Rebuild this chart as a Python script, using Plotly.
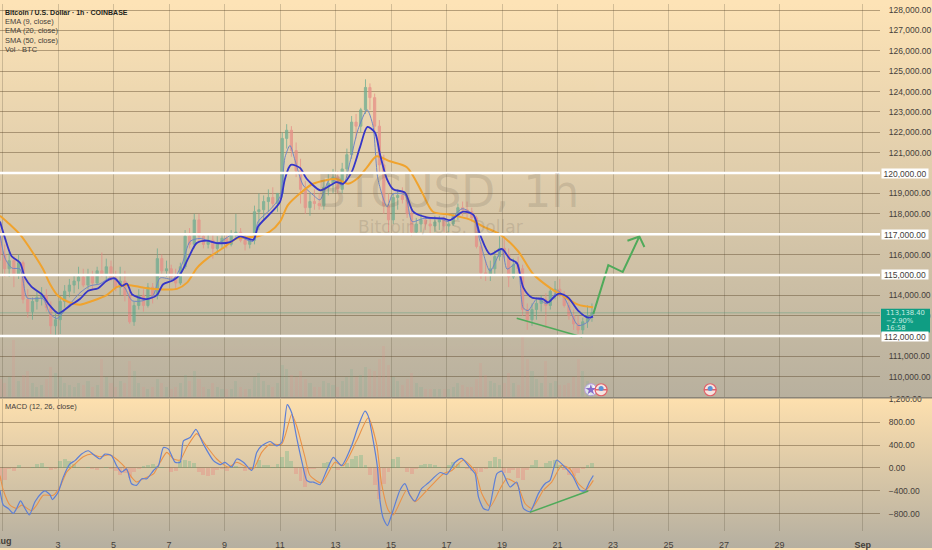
import base64

import plotly.graph_objs as go
from plotly.subplots import make_subplots

# x values are days of August, Sep 1 = 32
tick_days = [1, 3, 5, 7, 9, 11, 13, 15, 17, 19, 21, 23, 25, 27, 29, 32]
# Aug sits on the page edge, it is placed as an annotation further down
tick_labels = ['', '3', '5', '7', '9', '11', '13', '15', '17', '19', '21', '23', '25', '27', '29', '<b>Sep</b>']

# the white levels get their own boxed labels below
price_ticks = [110000, 111000, 113000, 114000, 116000, 118000, 119000, 121000, 122000, 123000, 124000, 125000,
               126000, 127000, 128000]
price_levels = [120000, 117000, 115000, 112000]
macd_ticks = [-800, -400, 0, 400, 800, 1200]

# candles, one per 4 hours
candle_days = [round(0.91 + i / 6, 2) for i in range(129)]
opens = [117000, 116000, 115300, 115700, 115000, 115600, 113800, 113200, 113700, 113900, 114000, 113400, 112500,
         112800, 113700, 114200, 114500, 114700, 114900, 114500, 115000, 114600, 115200, 115000, 115400, 114800,
         114400, 114700, 114000, 112700, 113500, 114000, 113500, 114400, 114000, 115800, 115200, 115300, 114900,
         114600, 115400, 116900, 116500, 117700, 116900, 116500, 116700, 116300, 116600, 116800, 116500, 117000,
         117100, 116700, 116500, 116700, 118100, 118200, 118600, 118800, 118500, 119000, 121700, 122100, 121100,
         120100, 119200, 118300, 118600, 118500, 118400, 119300, 119500, 119800, 119200, 120200, 120900, 122500,
         122300, 123100, 124200, 123700, 122300, 120400, 118400, 117700, 118800, 118900, 118700, 118000, 117100,
         117500, 117700, 117500, 117400, 117600, 117700, 117400, 117500, 117900, 118300, 118200, 118100, 117800,
         116400, 115100, 115000, 115300, 115900, 116300, 116000, 114900, 115500, 115300, 113300, 112800, 113300,
         113600, 113800, 113500, 114200, 114300, 114000, 113500, 113000, 112600, 112300, 112700, 113000]
highs = [117250, 116500, 116100, 115900, 116000, 115700, 114300, 113900, 114200, 114400, 114300, 113700, 113100,
         114000, 114500, 114800, 115000, 115400, 115300, 115300, 115200, 115400, 116100, 115800, 115700, 115200,
         115400, 115200, 114400, 113700, 114300, 114300, 114600, 114600, 116300, 116000, 115700, 115500, 115300,
         115600, 117200, 117300, 118000, 118000, 117000, 117000, 117000, 116900, 117000, 117000, 117200, 118000,
         117300, 117000, 116900, 118400, 119000, 118900, 119200, 119300, 119000, 122000, 122400, 122300, 121500,
         120700, 119600, 119000, 119200, 119000, 119600, 120000, 120200, 120100, 120500, 121200, 122800, 122900,
         123200, 124600, 124400, 123900, 122600, 120900, 119000, 119000, 119200, 119300, 119000, 118200, 117800,
         118000, 117900, 117800, 117900, 117900, 117900, 117700, 118000, 118500, 118600, 118600, 118300, 117900,
         116600, 115700, 115700, 116200, 116900, 116900, 116300, 115800, 115900, 115500, 113600, 113600, 113900,
         114000, 114100, 114400, 114700, 114800, 114200, 113700, 113300, 113000, 112900, 113500, 113600]
lows = [115700, 114900, 114900, 114400, 114800, 113600, 112900, 112800, 113300, 113500, 113200, 112100, 112050,
        112100, 113400, 113900, 114100, 114300, 114400, 114300, 114300, 114500, 114900, 114700, 114700, 114200,
        114000, 113700, 112600, 112500, 113300, 113200, 113400, 113600, 113800, 115000, 114900, 114800, 114300,
        114500, 115300, 116300, 116300, 116600, 116300, 116300, 115800, 116000, 116300, 116300, 116400, 116800,
        116600, 116200, 116300, 116500, 117200, 117700, 118100, 118300, 118100, 118800, 121200, 120800, 119800,
        118500, 118000, 117900, 118200, 118200, 118200, 118900, 119000, 119000, 119000, 119900, 120700, 121700,
        122000, 122900, 123100, 122000, 120000, 118000, 117100, 117500, 118200, 118500, 117800, 116900, 117000,
        117100, 117200, 117000, 117100, 117200, 117100, 117100, 117400, 117700, 117900, 117800, 117600, 116300,
        114800, 114700, 114700, 115000, 115700, 115800, 114400, 114800, 115000, 113000, 112300, 112500, 112800,
        113200, 112400, 113300, 113800, 113900, 113400, 112800, 112300, 112100, 112100, 112400, 112700]
closes = [116000, 115300, 115700, 115000, 115600, 113800, 113200, 113700, 113900, 114000, 113400, 112500, 112800,
          113700, 114200, 114500, 114700, 114900, 114500, 115000, 114600, 115200, 115000, 115400, 114800, 114400,
          114700, 114000, 112700, 113500, 114000, 113500, 114400, 114000, 115800, 115200, 115300, 114900, 114600,
          115400, 116900, 116500, 117700, 116900, 116500, 116700, 116300, 116600, 116800, 116500, 117000, 117100,
          116700, 116500, 116700, 118100, 118200, 118600, 118800, 118500, 119000, 121700, 122100, 121100, 120100,
          119200, 118300, 118600, 118500, 118400, 119300, 119500, 119800, 119200, 120200, 120900, 122500, 122300,
          123100, 124200, 123700, 122300, 120400, 118400, 117700, 118800, 118900, 118700, 118000, 117100, 117500,
          117700, 117500, 117400, 117600, 117700, 117400, 117500, 117900, 118300, 118200, 118100, 117800, 116400,
          115100, 115000, 115300, 115900, 116300, 116000, 114900, 115500, 115300, 113300, 112800, 113300, 113600,
          113800, 113500, 114200, 114300, 114000, 113500, 113000, 112600, 112300, 112700, 113000, 113138]
volumes = [900, 700, 1000, 2900, 800, 1100, 1300, 700, 500, 600, 900, 1500, 1200, 1000, 700, 600, 500, 700, 600, 800,
           500, 600, 1900, 1000, 700, 500, 800, 700, 1800, 1300, 700, 500, 400, 500, 900, 700, 500, 400, 500, 700,
           1100, 800, 1300, 900, 500, 400, 700, 500, 400, 400, 400, 800, 500, 400, 400, 1000, 1200, 800, 600, 500, 700,
           1600, 1400, 1100, 1000, 1300, 900, 700, 500, 500, 800, 700, 600, 500, 800, 1000, 1400, 1000, 1100, 1500,
           1400, 1300, 1900, 2600, 1600, 1000, 800, 600, 900, 1200, 700, 500, 400, 400, 400, 400, 400, 400, 500, 700,
           600, 500, 500, 900, 1700, 1100, 800, 700, 600, 700, 1200, 700, 600, 3100, 1900, 1300, 900, 700, 1800, 700,
           800, 600, 600, 700, 1000, 1900, 1300, 800, 600]

# EMA 20 (thick blue)
ema20_days = [0.91, 1.09, 1.33, 1.63, 1.81, 2.05, 2.41, 2.71, 3.01, 3.43, 3.79, 4.09, 4.45, 4.75, 5.05, 5.30, 5.48,
              5.66, 5.89, 6.19, 6.56, 6.79, 7.15, 7.40, 7.70, 8.0, 8.36, 8.72, 9.2, 9.56, 10.04, 10.21, 10.64, 11.0,
              11.18, 11.39, 11.72, 11.96, 12.44, 12.62, 13.04, 13.27, 13.58, 13.88, 14.15, 14.42, 14.60, 14.85, 15.08,
              15.50, 15.80, 16.29, 16.88, 17.13, 17.60, 17.97, 18.21, 18.57, 18.99, 19.29, 19.53, 19.77, 20.07, 20.48,
              20.66, 21.02, 21.38, 21.74, 22.10, 22.28]
ema20 = [117616, 116805, 115917, 115592, 114864, 114412, 114058, 113490, 113116, 113490, 113815, 114218, 114349,
         114704, 114835, 114461, 114573, 114058, 113893, 113815, 114010, 114543, 114738, 115029, 115835, 116563,
         116679, 116563, 116611, 116888, 116728, 117373, 118004, 118587, 119718, 120397, 120252, 119718, 119155,
         119232, 119558, 119475, 120043, 121257, 122261, 121985, 120931, 119718, 119203, 119038, 118101, 117825,
         117776, 117689, 118101, 117941, 116971, 116014, 116272, 115772, 115592, 114378, 113893, 113815, 113650,
         114073, 113893, 113247, 112908, 112956]

# SMA 50 (thick orange)
sma50_days = [0.91, 1.27, 1.63, 2.10, 2.46, 2.71, 3.0, 3.36, 3.79, 4.26, 4.77, 5.13, 5.52, 6.06, 6.42, 7.29, 7.65,
              8.01, 8.41, 8.95, 9.45, 10.17, 10.64, 11.0, 11.29, 11.78, 12.19, 13.04, 13.45, 13.81, 14.14, 14.48,
              14.96, 15.57, 16.11, 16.51, 17.13, 17.85, 18.32, 18.93, 19.58, 20.12, 20.73, 21.2, 21.74, 22.28]
sma50 = [117907, 117470, 116985, 116077, 115286, 114558, 113976, 113684, 113539, 113733, 114024, 114412, 114510,
         114378, 114315, 114315, 114621, 115349, 115835, 116320, 116791, 116888, 117131, 117616, 118441, 119072,
         119475, 119703, 119475, 119752, 120286, 120820, 120577, 120286, 119072, 118101, 117956, 117713, 117373,
         116985, 116160, 115043, 114364, 113976, 113539, 113408]

# EMA 9 (thin grey blue)
ema9_days = [0.91, 1.09, 1.34, 1.63, 1.88, 2.10, 2.46, 2.71, 2.96, 3.32, 3.79, 4.15, 4.51, 4.87, 5.13, 5.41, 5.67,
             6.06, 6.42, 6.68, 7.15, 7.47, 7.76, 8.12, 8.73, 9.31, 10.03, 10.21, 10.64, 11.0, 11.18, 11.36, 11.54,
             11.83, 12.19, 12.44, 12.80, 13.27, 13.52, 13.81, 14.14, 14.35, 14.53, 14.86, 15.07, 15.50, 15.76, 16.15,
             16.87, 17.05, 17.56, 17.95, 18.21, 18.57, 19.0, 19.18, 19.54, 19.76, 19.94, 20.26, 20.62, 21.02, 21.27,
             21.74, 22.06, 22.28]
ema9 = [116985, 115820, 115335, 115286, 113878, 113830, 113830, 113102, 112859, 113393, 114121, 114461, 114558,
        114849, 114704, 114364, 113733, 113733, 113976, 114849, 114801, 115529, 116645, 116791, 116548, 116985,
        116645, 117616, 118199, 118830, 120771, 121354, 120626, 119412, 118927, 118684, 119703, 119412, 120528,
        122130, 123101, 122324, 119703, 118344, 118975, 118927, 117616, 117762, 117713, 117616, 118247, 117956,
        116645, 115189, 116257, 115286, 115577, 113393, 113247, 113830, 113587, 114218, 113830, 112519, 112665,
        113053]

# MACD pane
macd_days = [0.91, 1.03, 1.21, 1.39, 1.51, 1.65, 1.81, 1.97, 2.17, 2.41, 2.53, 2.71, 2.80, 3.01, 3.19, 3.43, 3.61,
             3.85, 4.09, 4.33, 4.51, 4.69, 4.93, 5.11, 5.29, 5.47, 5.65, 5.83, 6.02, 6.20, 6.44, 6.62, 6.80, 6.98,
             7.22, 7.40, 7.52, 7.76, 7.97, 8.24, 8.60, 8.84, 9.02, 9.26, 9.44, 9.68, 9.98, 10.16, 10.34, 10.64, 10.88,
             11.06, 11.26, 11.42, 11.60, 11.78, 11.96, 12.08, 12.20, 12.44, 12.68, 12.92, 13.22, 13.58, 13.82, 14.06,
             14.18, 14.36, 14.51, 14.60, 14.72, 14.87, 15.02, 15.32, 15.50, 15.68, 15.86, 16.10, 16.34, 16.77, 17.01,
             17.31, 17.55, 17.85, 18.03, 18.15, 18.33, 18.51, 18.81, 18.99, 19.29, 19.53, 19.77, 20.01, 20.31, 20.55,
             20.73, 20.97, 21.21, 21.57, 21.81, 21.99, 22.15, 22.29]
macd_line = [-392, -652, -710, -796, -710, -577, -710, -825, -594, -439, -404, -467, -554, -421, -162, 69, 127, 242,
             300, 213, 156, 242, 213, 40, -75, -17, -277, -306, -190, -190, -46, 40, 358, 329, 98, 98, 473, 531, 675,
             415, 127, 58, 98, 12, 156, 98, -46, 271, 387, 462, 387, 444, 1108, 964, 531, 127, -219, -248, -248, -294,
             -46, 185, 40, 387, 733, 992, 906, 473, 12, -565, -883, -1010, -825, -392, -277, -479, -583, -364, -265,
             -81, -115, 98, 167, 0, -104, -508, -710, -739, -104, -58, -335, -248, -710, -767, -450, -277, -219, 138,
             40, -162, -392, -404, -248, -133]
signal_days = [0.91, 1.03, 1.27, 1.51, 1.69, 2.05, 2.23, 2.47, 2.83, 3.07, 3.31, 3.61, 3.91, 4.21, 4.51, 4.87, 5.17,
               5.41, 5.65, 5.83, 6.07, 6.44, 6.68, 6.92, 7.16, 7.40, 7.64, 8.0, 8.30, 8.72, 9.14, 9.44, 9.80, 10.04,
               10.34, 10.64, 11.06, 11.42, 11.60, 11.90, 12.08, 12.50, 12.98, 13.28, 13.76, 14.18, 14.48, 14.66, 14.90,
               15.08, 15.56, 15.86, 16.40, 16.89, 17.19, 17.61, 18.03, 18.27, 18.57, 18.93, 19.17, 19.53, 19.83, 20.07,
               20.49, 20.79, 21.15, 21.45, 21.75, 22.03, 22.29]
signal_line = [-133, -392, -652, -710, -652, -750, -652, -479, -479, -335, -75, 69, 196, 242, 196, 231, 127, 12, -162,
               -248, -190, -104, 98, 271, 156, 138, 358, 600, 415, 156, 12, 98, 12, -17, 271, 415, 415, 935, 733, 185,
               -133, -265, 98, 40, 473, 877, 415, -277, -739, -825, -392, -594, -335, -104, -46, 138, -58, -450, -681,
               -364, -190, -277, -623, -710, -392, -248, 40, -17, -277, -381, -219]
macd_hist = [-220, -200, -20, -40, 60, 10, 0, 30, 80, 90, 30, -30, -20, 120, 160, 130, 70, 30, 10, 30, -10, -30, 10, 20,
             -10, -40, -110, -90, -170, -60, -20, 40, 60, 70, 40, 20, 10, -70, -50, 130, 150, 130, 100, -60, -120, -130,
             -120, -30, -10, -40, 20, 40, 10, -40, -30, 30, 140, 50, 60, 20, 80, 200, 310, 120, -100, -230, -320, -20,
             -10, 10, 100, 110, 30, -30, 30, 100, 170, 220, 230, 60, -120, -300, -530, -280, -60, 160, 190, 10, -60,
             -100, -20, 50, 80, 70, 60, 30, 10, 60, 110, 70, 30, -20, -50, -100, -60, -20, 130, 200, 170, -90, -80, -30,
             -170, -200, -30, 50, 150, 30, 100, 130, 150, 60, -30, -110, -130, -90, -20, 60, 90]

# drawings on the chart
arrow_days = [22.29, 22.83, 23.35, 23.95, 23.52, 23.95, 24.13]
arrow_prices = [113087, 115480, 115141, 116888, 116679, 116888, 116369]
low_trend_days = [19.53, 21.89]
low_trend_prices = [112874, 111951]
macd_trend_days = [20.0, 22.11]
macd_trend_values = [-779, -404]
flag_days = [22.57, 26.5]
star_days = [22.2]
marker_price = 109364
last_price = 113138.40
last_box_rows = ['113,138.40', '−2.90%', '16:58']

GREEN = '#6aab90'
RED = '#e68c86'
TEXT = '#45403a'
LEGEND_FONT = 'Liberation Sans'

# two pane background gradient, both panes fade from peach to grey
svg = """<svg xmlns="http://www.w3.org/2000/svg" width="932" height="550" preserveAspectRatio="none">
<defs>
<linearGradient id="a" x1="0" y1="0" x2="0" y2="1"><stop offset="0" stop-color="#fde3b6"/><stop offset="1" stop-color="#b8b09e"/></linearGradient>
<linearGradient id="b" x1="0" y1="0" x2="0" y2="1"><stop offset="0" stop-color="#fee0ae"/><stop offset="1" stop-color="#b5afa0"/></linearGradient>
</defs>
<rect x="0" y="0" width="932" height="398" fill="url(#a)"/>
<rect x="0" y="398" width="932" height="152" fill="url(#b)"/>
</svg>"""
bg_source = 'data:image/svg+xml;base64,' + base64.b64encode(svg.encode()).decode()

fig = make_subplots(rows=2, cols=1, shared_xaxes=True, specs=[[{'secondary_y': True}], [{}]])

# Volume
fig.add_trace(go.Bar(
    x=candle_days, y=volumes, width=0.11,
    marker_color=[GREEN if c >= o else RED for o, c in zip(opens, closes)],
    marker_line_width=0, opacity=0.16, name='Vol'
), row=1, col=1, secondary_y=True)

# Candles
fig.add_trace(go.Candlestick(
    x=candle_days, open=opens, high=highs, low=lows, close=closes, name='BTCUSD',
    increasing=dict(line=dict(color=GREEN, width=1), fillcolor=GREEN),
    decreasing=dict(line=dict(color=RED, width=1), fillcolor=RED),
    whiskerwidth=0, opacity=0.75
), row=1, col=1, secondary_y=False)

fig.add_trace(go.Scatter(x=ema9_days, y=ema9, mode='lines', name='EMA 9',
                         line=dict(color='#6f86c4', width=1, shape='spline', smoothing=0.7)),
              row=1, col=1, secondary_y=False)
fig.add_trace(go.Scatter(x=sma50_days, y=sma50, mode='lines', name='SMA 50',
                         line=dict(color='#f0a32e', width=2, shape='spline', smoothing=0.8)),
              row=1, col=1, secondary_y=False)
fig.add_trace(go.Scatter(x=ema20_days, y=ema20, mode='lines', name='EMA 20',
                         line=dict(color='#3535c8', width=1.8, shape='spline', smoothing=0.8)),
              row=1, col=1, secondary_y=False)

# hand drawn green lines
fig.add_trace(go.Scatter(x=arrow_days, y=arrow_prices, mode='lines', name='arrow',
                         line=dict(color='#4faa5a', width=2)), row=1, col=1, secondary_y=False)
fig.add_trace(go.Scatter(x=low_trend_days, y=low_trend_prices, mode='lines', name='trend',
                         line=dict(color='#4faa5a', width=1.5)), row=1, col=1, secondary_y=False)

# event icons at the bottom of the price pane
fig.add_trace(go.Scatter(x=star_days, y=[marker_price], mode='markers', name='star',
                         marker=dict(symbol='circle', size=12, color='#f4f0f8', line=dict(color='#b79be0', width=1))),
              row=1, col=1, secondary_y=False)
fig.add_trace(go.Scatter(x=star_days, y=[marker_price], mode='markers', name='star2',
                         marker=dict(symbol='star', size=8, color='#8a63d2')), row=1, col=1, secondary_y=False)
fig.add_trace(go.Scatter(x=flag_days, y=[marker_price] * 2, mode='markers', name='flag',
                         marker=dict(symbol='circle', size=12, color='#f6e4e0', line=dict(color='#e2626a', width=1.2))),
              row=1, col=1, secondary_y=False)
fig.add_trace(go.Scatter(x=flag_days, y=[marker_price] * 2, mode='markers', name='flag2',
                         marker=dict(symbol='line-ew', size=9, line=dict(color='#e2626a', width=1.5))),
              row=1, col=1, secondary_y=False)
fig.add_trace(go.Scatter(x=flag_days, y=[marker_price + 60] * 2, mode='markers', name='flag3',
                         marker=dict(symbol='circle', size=5, color='#5b93d6')), row=1, col=1, secondary_y=False)

# MACD pane
fig.add_trace(go.Bar(
    x=candle_days, y=macd_hist, width=0.14,
    marker_color=['rgba(90,180,130,0.3)' if v >= 0 else 'rgba(240,120,120,0.3)' for v in macd_hist],
    marker_line_width=0, name='Histogram'
), row=2, col=1)
fig.add_trace(go.Scatter(x=signal_days, y=signal_line, mode='lines', name='Signal',
                         line=dict(color='#ea9248', width=1.1, shape='spline', smoothing=0.6)), row=2, col=1)
fig.add_trace(go.Scatter(x=macd_days, y=macd_line, mode='lines', name='MACD',
                         line=dict(color='#5d7fd6', width=1.2, shape='spline', smoothing=0.6)), row=2, col=1)
fig.add_trace(go.Scatter(x=macd_trend_days, y=macd_trend_values, mode='lines', name='macd trend',
                         line=dict(color='#4faa5a', width=1.5)), row=2, col=1)

# horizontal levels and last price line
for level in price_levels:
    fig.add_hline(y=level, line_color='white', line_width=2.5, row=1, col=1)
fig.add_hline(y=last_price, line_color='rgba(70,150,120,0.4)', line_width=1, row=1, col=1)

annotations = []

# legend block
legend_rows = [('<b>Bitcoin / U.S. Dollar · 1h · COINBASE</b>', 9, '#221f1a', 7), ('EMA (9, close)', 18, TEXT, 7.5),
               ('EMA (20, close)', 27, TEXT, 7.5), ('SMA (50, close)', 36.5, TEXT, 7.5), ('Vol · BTC', 46, TEXT, 7.5),
               ('MACD (12, 26, close)', 406.5, TEXT, 7.5)]
for text, top, color, size in legend_rows:
    annotations.append(dict(text=text, xref='paper', yref='paper', x=4 / 932, y=1 - top / 550, xanchor='left',
                            yanchor='middle', showarrow=False, borderpad=0,
                            font=dict(family=LEGEND_FONT, size=size, color=color)))

# Aug month label, half of it runs off the page
annotations.append(dict(text='<b>Aug</b>', xref='paper', yref='paper', x=2.5 / 932, y=1 - 543 / 550, xanchor='center',
                        yanchor='middle', showarrow=False, borderpad=0,
                        font=dict(family='Liberation Sans', size=9, color=TEXT)))

# watermark
annotations.append(dict(text='BTCUSD, 1h', xref='paper', yref='paper', x=447 / 932, y=1 - 190 / 550, showarrow=False,
                        font=dict(family='DejaVu Sans', size=44, color='rgba(110,100,85,0.2)')))
annotations.append(dict(text='Bitcoin / U.S. Dollar', xref='paper', yref='paper', x=440 / 932, y=1 - 225 / 550,
                        showarrow=False, font=dict(family='DejaVu Sans', size=17, color='rgba(110,100,85,0.2)')))

# level labels with white box
for level in price_levels:
    annotations.append(dict(text=f'{level:,.2f}', xref='paper', yref='y', x=881 / 932, y=level, xanchor='left',
                            showarrow=False, bgcolor='white', width=46, height=9, align='center', borderpad=0,
                            font=dict(family='Liberation Sans', size=8.5, color=TEXT)))

# last price box, one row per annotation so the spacing can be tight
for text, top in zip(last_box_rows, [312, 320, 328]):
    annotations.append(dict(text=text, xref='paper', yref='paper', x=885 / 932, y=1 - top / 550, xanchor='left',
                            yanchor='middle', showarrow=False, borderpad=0,
                            font=dict(family='DejaVu Sans', size=6.8, color='#c4ebe0')))

grid_h = 'rgba(85,65,35,0.42)'
grid_v = 'rgba(85,75,55,0.25)'

fig.update_layout(
    width=932, height=550, autosize=False,
    margin=dict(l=0, r=0, t=0, b=0),
    paper_bgcolor='#fde3b6', plot_bgcolor='rgba(0,0,0,0)',
    showlegend=False, barmode='overlay', bargap=0,
    images=[dict(source=bg_source, xref='paper', yref='paper', x=0, y=1, sizex=1, sizey=1,
                 sizing='stretch', layer='below')],
    shapes=list(fig.layout.shapes) + [
        dict(type='line', xref='paper', yref='paper', x0=0, x1=1, y0=1 - 398 / 550, y1=1 - 398 / 550,
             line=dict(color='#8a8478', width=1.5)),
        dict(type='rect', xref='paper', yref='paper', x0=881 / 932, x1=930 / 932, y0=1 - 332 / 550, y1=1 - 308 / 550,
             fillcolor='#0f9d83', line=dict(width=0)),
    ],
    annotations=annotations,
    xaxis_rangeslider_visible=False,
    font=dict(family='Liberation Sans', size=8.5, color=TEXT),
)

fig.update_xaxes(range=[0.91, 32.62], domain=[0, 880 / 932], tickmode='array', tickvals=tick_days, ticktext=tick_labels,
                 showgrid=True, gridcolor=grid_v, gridwidth=1, zeroline=False, showline=False, ticks='')
fig.update_xaxes(showticklabels=False, row=1, col=1)
fig.update_xaxes(showticklabels=True, row=2, col=1, ticks='outside', ticklen=5, tickcolor='rgba(0,0,0,0)',
                 tickfont=dict(family='Liberation Sans', size=9, color=TEXT))

fig.update_layout(
    yaxis=dict(domain=[1 - 397 / 550, 1], range=[109024, 128296], side='right', tickmode='array', tickvals=price_ticks,
               tickformat=',.2f', showgrid=True, gridcolor=grid_h, gridwidth=1, zeroline=False, ticks='outside',
               ticklen=6, tickcolor='rgba(0,0,0,0)', tickfont=dict(family='Liberation Sans', size=8.5, color=TEXT)),
    yaxis2=dict(domain=[1 - 397 / 550, 1], range=[0, 20000], visible=False, overlaying='y'),
    yaxis3=dict(domain=[17 / 550, 151 / 550], range=[-1108, 1212], side='right', tickmode='array', tickvals=macd_ticks,
                tickformat=',.2f', showgrid=True, gridcolor=grid_h, gridwidth=1, zeroline=False, ticks='outside',
                ticklen=6, tickcolor='rgba(0,0,0,0)', tickfont=dict(family='Liberation Sans', size=8.5, color=TEXT)),
)

# page fills the window exactly, no default body margin, no toolbar
fig.write_html("out.html", config={'displayModeBar': False},
               post_script="document.body.style.margin='0';document.body.style.overflow='hidden';")
